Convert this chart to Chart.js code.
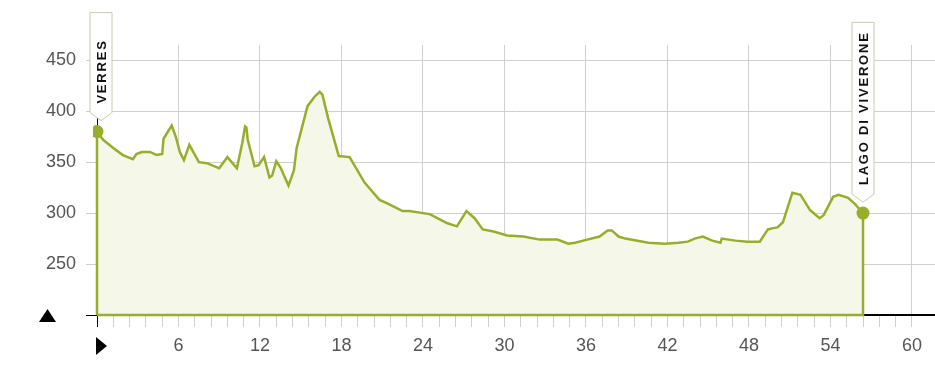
<!DOCTYPE html>
<html>
<head>
<meta charset="utf-8">
<script src="https://cdn.jsdelivr.net/npm/chart.js@4/dist/chart.umd.min.js"></script>
<style>
  html, body { margin: 0; padding: 0; background: #fff; }
  #wrap { width: 935px; height: 383px; }
</style>
</head>
<body>
<div id="wrap"><canvas id="profile" width="935" height="383"></canvas></div>
<script>
// elevation profile, km vs metres
const kmValues = [
  0, 0.45, 1.2, 1.9, 2.65, 2.9, 3.3, 3.9, 4.4, 4.8, 4.9, 5.5, 5.8, 6.1, 6.4, 6.8,
  7.5, 8.1, 9.0, 9.6, 10.3, 10.7, 10.9, 11.0, 11.1, 11.6, 11.9, 12.3, 12.7, 12.9,
  13.2, 13.5, 14.1, 14.5, 14.7, 15.5, 16.0, 16.4, 16.6, 17.0, 17.8, 18.6, 19.7,
  20.8, 21.3, 22.5, 23.0, 24.0, 24.5, 25.8, 26.5, 27.2, 27.8, 28.4, 29.2, 30.2,
  31.4, 32.6, 33.9, 34.7, 35.2, 36.1, 37.0, 37.6, 37.9, 38.4, 38.9, 40.6, 41.8,
  42.8, 43.5, 44.0, 44.6, 45.3, 45.9, 46.0, 47.0, 47.9, 48.8, 49.4, 49.7, 50.1,
  50.5, 51.2, 51.8, 52.5, 53.2, 53.5, 54.2, 54.6, 55.3, 55.8, 56.4
];
const elevValues = [
  380, 372, 364, 357, 353, 358, 360, 360, 357, 358, 373, 386, 375, 360, 352, 367,
  350, 349, 344, 355, 344, 369, 385, 384, 372, 346, 347, 355, 335, 337,
  351, 345, 327, 342, 364, 405, 414, 419, 416, 394, 356, 355, 330,
  313, 310, 302, 302, 300, 299, 290, 287, 302, 295, 284, 282, 278,
  277, 274, 274, 270, 271, 274, 277, 283, 283, 277, 275, 271, 270,
  271, 272, 275, 277, 273, 271, 275, 273, 272, 272, 284, 285, 286,
  291, 320, 318, 303, 295, 298, 316, 318, 315, 309, 300
];
const placeNames = ['VERRES', 'LAGO DI VIVERONE'];
const yTicks = [200, 250, 300, 350, 400, 450];
const xMajorStep = 6;
const xMinorStep = 1.2;
const yMin = 200, yMax = 465, xMax = 61.7;

const lineColor = '#98ad2b';
const fillColor = '#f5f8e9';
const gridColor = '#d0d0d0';

const last = kmValues.length - 1;
const profile = kmValues.map((k, i) => ({ x: k, y: elevValues[i] }));
// closed outline: down both ends and along the bottom
const outline = [{ x: kmValues[0], y: yMin }]
  .concat(profile)
  .concat([{ x: kmValues[last], y: yMin }, { x: kmValues[0], y: yMin }]);

const isMajor = v => Math.abs(v / xMajorStep - Math.round(v / xMajorStep)) < 1e-6;

// place flags and the little arrows
const decorPlugin = {
  id: 'decor',
  afterDatasetsDraw(chart) {
    const { ctx, scales: { x, y }, chartArea } = chart;
    ctx.save();
    ctx.font = 'bold 13px "Liberation Sans", Arial, sans-serif';
    ctx.letterSpacing = '1.8px';
    [0, last].forEach((idx, n) => {
      const px = x.getPixelForValue(kmValues[idx]) + (n === 0 ? 4 : 0);
      const py = y.getPixelForValue(elevValues[idx]);
      const name = placeNames[n];
      const tw = ctx.measureText(name).width;
      const h = Math.max(100, tw + 18);
      const tip = py - 11;
      const rb = tip - 8;
      const rt = rb - h;
      const w = 22;
      ctx.beginPath();
      ctx.moveTo(px - w / 2, rt);
      ctx.lineTo(px + w / 2, rt);
      ctx.lineTo(px + w / 2, rb);
      ctx.lineTo(px, tip);
      ctx.lineTo(px - w / 2, rb);
      ctx.closePath();
      ctx.fillStyle = '#fff';
      ctx.fill();
      ctx.strokeStyle = '#c9ccb4';
      ctx.lineWidth = 1;
      ctx.stroke();
      ctx.save();
      ctx.translate(px + 1, rb - 9);
      ctx.rotate(-Math.PI / 2);
      ctx.fillStyle = '#111';
      ctx.textAlign = 'left';
      ctx.textBaseline = 'middle';
      ctx.fillText(name, 0, 0);
      ctx.restore();
    });
    ctx.restore();

    // arrows
    ctx.save();
    ctx.fillStyle = '#000';
    const by = chartArea.bottom;
    ctx.beginPath();
    ctx.moveTo(39, by + 7);
    ctx.lineTo(56, by + 7);
    ctx.lineTo(47.5, by - 6);
    ctx.closePath();
    ctx.fill();
    const lx = chartArea.left;
    ctx.beginPath();
    ctx.moveTo(lx - 1, by + 22);
    ctx.lineTo(lx - 1, by + 40);
    ctx.lineTo(lx + 10, by + 31);
    ctx.closePath();
    ctx.fill();
    ctx.restore();
  }
};

const tickFont = { family: '"Liberation Sans", Arial, sans-serif', size: 18 };

new Chart(document.getElementById('profile').getContext('2d'), {
  type: 'line',
  data: {
    datasets: [{
      // outline
      data: outline,
      borderColor: lineColor,
      borderWidth: 2.5,
      fill: false,
      tension: 0,
      pointRadius: c => (c.dataIndex === 1 || c.dataIndex === last + 1) ? 6.5 : 0,
      pointBackgroundColor: lineColor,
      pointBorderWidth: 0,
      clip: 4,
      order: 0
    }, {
      // area
      data: profile,
      borderWidth: 0,
      borderColor: 'rgba(0,0,0,0)',
      backgroundColor: fillColor,
      fill: 'start',
      tension: 0,
      pointRadius: 0,
      order: 1
    }]
  },
  options: {
    responsive: false,
    animation: false,
    layout: { padding: { top: 45, right: 0, left: 0, bottom: 0 } },
    plugins: { legend: { display: false }, tooltip: { enabled: false } },
    scales: {
      x: {
        type: 'linear',
        min: 0,
        max: xMax,
        afterFit: s => { s.height = 68; },
        afterBuildTicks: s => {
          const t = [];
          for (let i = 0; i * xMinorStep <= 60 + 1e-6; i++) t.push({ value: +(i * xMinorStep).toFixed(2) });
          s.ticks = t;
        },
        ticks: {
          autoSkip: false,
          maxRotation: 0,
          padding: 8,
          color: '#555',
          font: tickFont,
          callback: v => (v > 0 && isMajor(v)) ? String(Math.round(v)) : ''
        },
        grid: {
          color: c => (c.tick && c.tick.value > 0 && isMajor(c.tick.value)) ? gridColor : 'rgba(0,0,0,0)',
          tickColor: c => (c.tick && c.tick.value === 0) ? '#000' : gridColor,
          tickLength: 12,
          lineWidth: 1
        },
        border: { color: '#000', width: 1.5 }
      },
      y: {
        min: yMin,
        max: yMax,
        afterFit: s => { s.width = 97; },
        afterBuildTicks: s => { s.ticks = yTicks.map(v => ({ value: v })); },
        ticks: {
          padding: 10,
          color: '#555',
          font: tickFont,
          callback: v => v === yMin ? '' : String(v)
        },
        grid: {
          color: c => (c.tick && c.tick.value === yMin) ? '#000' : gridColor,
          tickLength: 11,
          lineWidth: 1
        },
        border: { color: '#000', width: 1 }
      }
    }
  },
  plugins: [decorPlugin]
});
</script>
</body>
</html>
